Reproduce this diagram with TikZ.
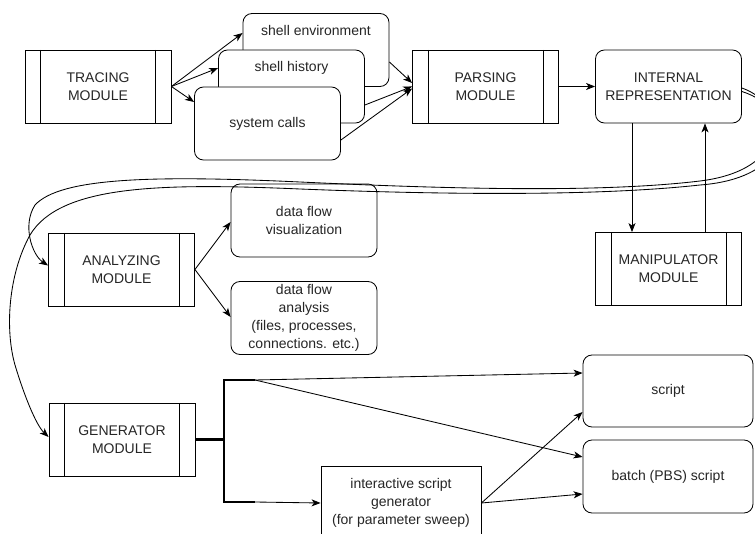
\documentclass[tikz,border=0pt]{standalone}
\usepackage{fontspec}
\setmainfont{Liberation Sans}
\usetikzlibrary{arrows.meta}
\begin{document}
\begin{tikzpicture}[x=1pt,y=-1pt,line width=0.85pt,
  >={Stealth[length=9pt,width=7pt,inset=2.5pt]},
  every node/.style={font=\fontsize{14}{18}\selectfont, text=black!85, align=center, inner sep=0pt},
  box/.style={draw, fill=white, minimum width=146pt, minimum height=73pt},
  rbox/.style={box, rounded corners=9pt},
  module/.style={box, path picture={
      \draw[line width=0.85pt] ([xshift=15.5pt]path picture bounding box.north west) -- ([xshift=15.5pt]path picture bounding box.south west);
      \draw[line width=0.85pt] ([xshift=-15.5pt]path picture bounding box.north east) -- ([xshift=-15.5pt]path picture bounding box.south east);}},
  thickline/.style={line width=2.2pt}]
\useasboundingbox (0,0) rectangle (755,534);
\clip (0,0) rectangle (755,534);

% nodes
\node[module] (trace) at (98,86.5) {TRACING\\MODULE};
\node[rbox] (env) at (316,50) {};
\node (envt) at (316,31) {shell environment};
\node[rbox] (hist) at (291.5,86.5) {};
\node (histt) at (291.5,68) {shell history};
\node[rbox] (sys) at (267.5,123.5) {system calls};
\node[module] (pars) at (485.5,86.5) {PARSING\\MODULE};
\node[rbox] (irep) at (668.5,86.5) {INTERNAL\\REPRESENTATION};
\node[module] (manip) at (668.5,269) {MANIPULATOR\\MODULE};
\node[module] (anal) at (121.5,269.5) {ANALYZING\\MODULE};
\node[rbox] (viz) at (304,220.5) {data flow\\visualization};
\node[rbox] (dfa) at (304,318) {data flow\\analysis\\(files, processes,\\connections. etc.)};
\node[module] (gen) at (122,439.5) {GENERATOR\\MODULE};
\node[rbox, minimum width=170pt, minimum height=72pt] (script) at (668,391) {script};
\node[rbox, minimum width=170pt] (batch) at (668,476.5) {batch (PBS) script};
\node[box, minimum width=160pt, minimum height=74pt] (inter) at (401,503) {interactive script\\generator\\(for parameter sweep)};

% tracing fan-out
\draw[->] (trace.east) -- ([yshift=17pt]env.west);
\draw[->] (trace.east) -- ([yshift=18.5pt]hist.west);
\draw[->] (trace.east) -- ([yshift=21.5pt]sys.west);
\draw[->] ([yshift=-12pt]env.east) -- ([yshift=3.5pt]pars.west);
\draw[->] ([yshift=-18.5pt]hist.east) -- (pars.west);
\draw[->] ([yshift=-16.5pt]sys.east) -- ([yshift=-2pt]pars.west);
\draw[->] (pars) -- (irep);
\draw[->] ([xshift=-36.5pt]irep.south) -- ([xshift=-36.5pt]manip.north);
\draw[->] ([xshift=36.5pt]manip.north) -- ([xshift=36.5pt]irep.south);
\draw[->] (anal.east) -- ([yshift=-1.5pt]viz.west);
\draw[->] (anal.east) -- ([yshift=1pt]dfa.west);

% generator
\coordinate (jt) at (224,380);
\coordinate (jb) at (224,502);
\coordinate (kt) at (255,380);
\coordinate (kb) at (255,502);
\draw[thickline] (gen.east) -| (jt) -- (kt);
\draw[thickline] (gen.east) -| (jb) -- (kb);
\draw[->] (kt) -- ([yshift=18pt]script.west);
\draw[->] (kt) -- ([yshift=19.5pt]batch.west);
\draw[->] (kb) -- (inter.west);
\draw[->] (inter.east) -- ([yshift=-21pt]script.west);
\draw[->] (inter.east) -- ([yshift=-17.5pt]batch.west);

% long curves
\draw[->] ([yshift=-1.5pt]irep.east) .. controls (790,105) and (790,170) .. (700,181)
  .. controls (600,193) and (450,189) .. (300,182)
  .. controls (150,175) and (60,178) .. (35,205)
  .. controls (22,225) and (32,255) .. ([yshift=4pt]anal.west);
\draw[->] ([yshift=-5pt]irep.east) .. controls (800,110) and (795,178) .. (700,185)
  .. controls (600,196) and (450,195) .. (300,189)
  .. controls (160,183) and (60,185) .. (30,235)
  .. controls (8,275) and (5,330) .. (15,365)
  .. controls (24,395) and (36,425) .. ([yshift=2.5pt]gen.west);
\end{tikzpicture}
\end{document}
